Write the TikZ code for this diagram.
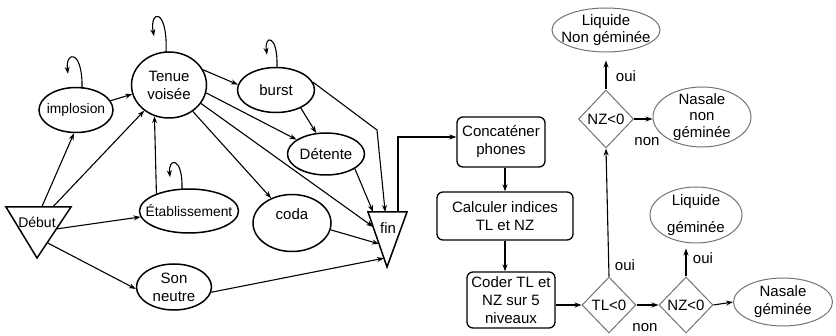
\documentclass[tikz,border=0pt]{standalone}
\usepackage{fontspec}
\setmainfont{Liberation Sans}
\usetikzlibrary{shapes.geometric,arrows.meta,calc}

\begin{document}
\begin{tikzpicture}[x=1pt,y=-1pt,
  font=\fontsize{15}{18}\selectfont,
  arr/.style={-{Stealth[length=7pt,width=5pt]}, line width=1.1pt},
  st/.style n args={2}{ellipse, draw, line width=1.5pt, inner sep=0pt,
    minimum width=#1, minimum height=#2},
  res/.style n args={2}{ellipse, draw=black!55, line width=1pt, inner sep=0pt,
    minimum width=#1, minimum height=#2},
  tx/.style={label={[align=center]center:#1}},
  txs/.style={label={[align=center,font=\fontsize{13.8}{16}\selectfont]center:#1}},
  box/.style={rectangle, rounded corners=6pt, draw, line width=1.3pt,
    align=center, inner sep=0pt},
  test/.style={diamond, draw=black!55, line width=1pt, inner sep=0pt,
    minimum width=54pt, minimum height=56pt},
  tri/.style={draw, line width=1.5pt, line join=miter},
  note/.style={inner sep=0pt}
]
\useasboundingbox (0,0) rectangle (836,336);

% ---- start and end markers (downward triangles)
\coordinate (dA) at (6,207);
\coordinate (dB) at (71,207);
\coordinate (dC) at (37,258);
\draw[tri] (dA) -- (dB) -- (dC) -- cycle;
\node[note, font=\fontsize{14}{16}\selectfont] (debut) at (37,222) {Début};

\coordinate (fA) at (368,212);
\coordinate (fB) at (407,212);
\coordinate (fC) at (387,267);
\draw[tri] (fA) -- (fB) -- (fC) -- cycle;
\node[note] (fin) at (388,228) {fin};

% ---- phone states
\node[st={75pt}{66pt}, tx={Tenue\\voisée}] (tenue) at (169,85) {};
\node[st={74pt}{45pt}, txs={implosion}] (impl) at (76,110) {};
\node[st={77pt}{45pt}, tx={burst}] (burst) at (276,90) {};
\node[st={77pt}{42pt}, tx={Détente}] (detente) at (326,154) {};
\node[st={99pt}{44pt}, txs={Établissement}] (etab) at (189,211) {};
\node[st={78pt}{57pt}, label={[yshift=9pt]center:coda}] (coda) at (292,223) {};
\node[st={75pt}{46pt}, tx={Son\\neutre}] (son) at (174,287) {};

% ---- self loops (narrow, with the tip coming back down on the left)
\draw[arr] ($(tenue.north)+(-3,1)$) .. controls ($(tenue.north)+(-1,-44)$)
  and ($(tenue.north)+(-20,-42)$) .. ($(tenue.north)+(-15,-15)$);
\draw[arr] ($(impl.north)+(6,2)$) .. controls ($(impl.north)+(7,-38)$)
  and ($(impl.north)+(-11,-36)$) .. ($(impl.north)+(-8,-13)$);
\draw[arr] ($(burst.north)+(1,0)$) .. controls ($(burst.north)+(2,-33)$)
  and ($(burst.north)+(-12,-32)$) .. ($(burst.north)+(-9,-12)$);
\draw[arr] ($(etab.north)+(-7,1)$) .. controls ($(etab.north)+(-6,-32)$)
  and ($(etab.north)+(-21,-31)$) .. ($(etab.north)+(-19,-11)$);

% ---- transitions
\draw[arr] ($(dA)!0.55!(dB)$) -- (impl.265);
\draw[arr] ($(dA)!0.72!(dB)$) -- (tenue.226);
\draw[arr] ($(dB)!0.43!(dC)$) -- (etab.187);
\draw[arr] ($(dB)!0.70!(dC)$) -- (son.183);
\draw[arr] (impl.15) -- (tenue.194);
\draw[arr] (etab.152) -- (tenue.245);
\draw[arr] (tenue.24) -- (burst.172);
\draw[arr] (tenue.-12) -- (detente.154);
\draw[arr] (tenue.-48) -- (coda.130);
\draw[arr] (tenue.-30) -- ($(fA)!0.27!(fC)$);
\draw[arr] (burst.-36) -- (detente.115);
\coordinate (bend) at (377,130);
\draw[arr] (burst.12) -- (bend) -- ($(fA)!0.44!(fB)$);
\draw[arr] (detente.-27) -- ($(fA)!0.13!(fB)$);
\draw[arr] (coda.-10) -- ($(fA)!0.58!(fC)$);
\draw[arr] (son.-8) -- ($(fA)!0.84!(fC)$);

% ---- classification chain
\node[box, minimum width=88pt, minimum height=50pt] (concat) at (501,142)
  {Concaténer\\phones};
\node[box, minimum width=136pt, minimum height=48pt] (calc) at (505,216)
  {Calculer indices\\TL et NZ};
\node[box, minimum width=88pt, minimum height=56pt] (coder) at (511,300)
  {Coder TL et\\NZ sur 5\\niveaux};

\node[test, label={center:TL<0}] (tl) at (609,305) {};
\node[test, label={center:NZ<0}] (nzb) at (686,305) {};
\node[test, minimum width=55pt, minimum height=58pt, label={center:NZ<0}] (nzt) at (606,119) {};

\node[res={99pt}{48pt}, tx={Nasale\\géminée}] (nasg) at (783,302) {};
\node[res={92pt}{56pt}, tx={Liquide\\[9pt]géminée}] (liqg) at (696,215) {};
\node[res={98pt}{60pt},
  label={[align=center,font=\fontsize{15}{16.5}\selectfont]center:Nasale\\non\\géminée}]
  (nasn) at (702,117) {};
\node[res={108pt}{44pt},
  label={[align=center,font=\fontsize{15}{16.5}\selectfont]center:Liquide\\Non géminée}]
  (liqn) at (606,30) {};

\draw[arr] ($(fA)!0.77!(fB)$) |- ($(concat.west)+(0,-5)$);
\draw[arr] (calc.north |- concat.south) -- (calc.north);
\draw[arr] (calc.south) -- (calc.south |- coder.north);
\draw[arr] (coder.east |- tl.west) -- (tl.west);
\draw[arr] (tl.east) -- (nzb.west);
\draw[arr] (nzb.east) -- (nasg.west);
\draw[arr, shorten >=5pt] (nzb.north) -- (nzb.north |- liqg.south);
\draw[arr] (tl.north) -- (nzt.south);
\draw[arr] (nzt.east) -- (nzt.east -| nasn.west);
\draw[arr, shorten >=8pt] (nzt.north) -- (nzt.north |- liqn.south);

% ---- branch labels
\node[note] (o1) at (626,76) {oui};
\node[note] (n1) at (647,142) {non};
\node[note] (o2) at (625,265) {oui};
\node[note] (o3) at (703,258) {oui};
\node[note] (n2) at (645,328) {non};
\end{tikzpicture}
\end{document}
